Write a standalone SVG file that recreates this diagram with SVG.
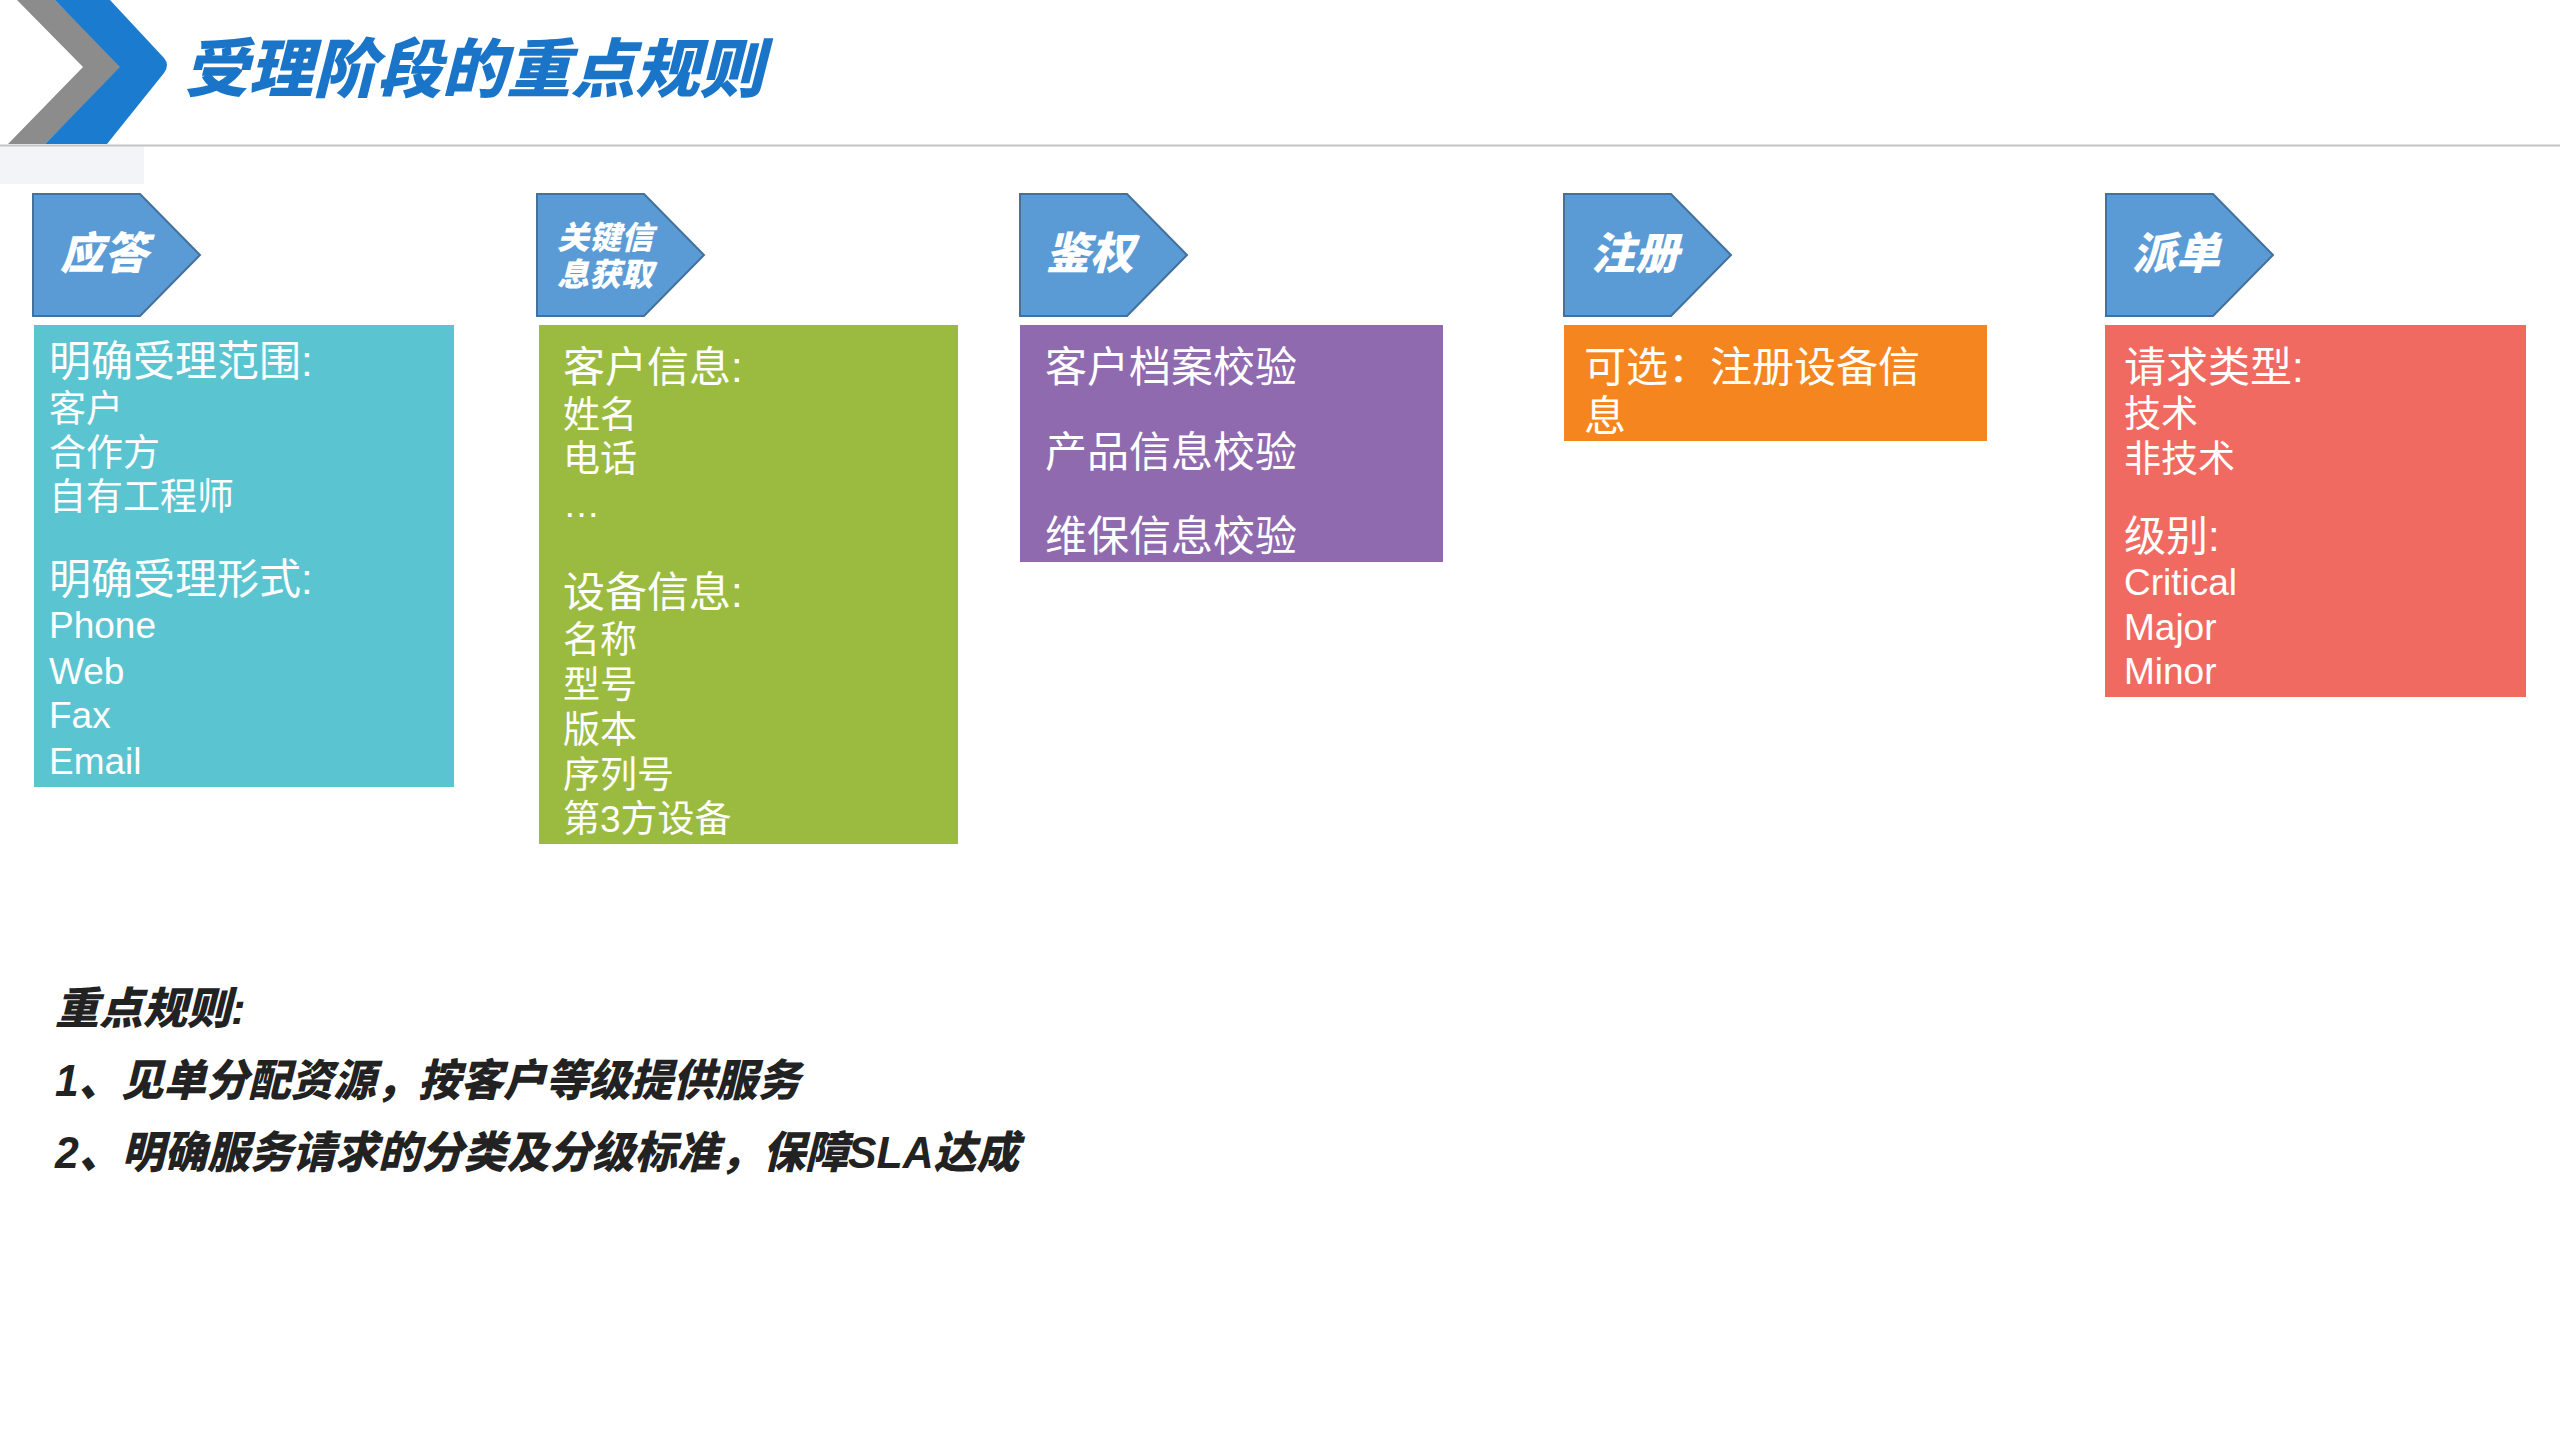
<svg xmlns="http://www.w3.org/2000/svg" width="2560" height="1440" viewBox="0 0 2560 1440">
<style>
.tag{fill:#5b9bd5;stroke:#41719c;stroke-width:2}
.tagt{font-family:"Noto Sans CJK SC",sans-serif;font-weight:900;font-style:italic;fill:#ffffff}
.bt{font-family:"Liberation Sans","Noto Sans CJK SC",sans-serif;fill:#ffffff}
.h{font-size:42px}
.i{font-size:37px}
.rule{font-family:"Liberation Sans","Noto Sans CJK SC",sans-serif;font-weight:900;font-style:italic;font-size:44px;fill:#222222}
</style>
<rect x="0" y="0" width="2560" height="1440" fill="#ffffff"/>
<g id="header">
<polygon points="17,0 55,0 122,66 45,144 8,144 83,67" fill="#8c8c8c"/>
<path d="M55,0 L110,0 L164,58 Q170,65 164,73 L107,144 L45,144 L120,67 Z" fill="#1b7bcf"/>
<rect x="0" y="146" width="144" height="38" fill="#f3f4f8"/>
<line x1="0" y1="145.5" x2="2560" y2="145.5" stroke="#c4c4c4" stroke-width="2"/>
<text x="184" y="92" font-family="Noto Sans CJK SC,sans-serif" font-weight="900" font-style="italic" font-size="64" fill="#1a75c8" textLength="580" lengthAdjust="spacingAndGlyphs">受理阶段的重点规则</text>
</g>
<g id="connectors"/>
<g id="node-yingda">
<polygon class="tag" points="33,194 140,194 200,255 140,316 33,316"/>
<text class="tagt" x="60" y="269" font-size="44">应答</text>
<rect x="34" y="325" width="420" height="462" fill="#5bc4d1"/>
<text class="bt h" x="49" y="376">明确受理范围:</text>
<text class="bt i" x="49" y="422">客户</text>
<text class="bt i" x="49" y="466">合作方</text>
<text class="bt i" x="49" y="510">自有工程师</text>
<text class="bt h" x="49" y="594">明确受理形式:</text>
<text class="bt i" x="49" y="638">Phone</text>
<text class="bt i" x="49" y="684">Web</text>
<text class="bt i" x="49" y="728">Fax</text>
<text class="bt i" x="49" y="774">Email</text>
</g>
<g id="node-info">
<polygon class="tag" points="537,194 644,194 704,255 644,316 537,316"/>
<text class="tagt" font-size="32"><tspan x="557" y="249">关键信</tspan><tspan x="557" y="286">息获取</tspan></text>
<rect x="539" y="325" width="419" height="519" fill="#9bbb40"/>
<text class="bt h" x="563" y="382">客户信息:</text>
<text class="bt i" x="563" y="428">姓名</text>
<text class="bt i" x="563" y="472">电话</text>
<text class="bt i" x="563" y="517">…</text>
<text class="bt h" x="563" y="607">设备信息:</text>
<text class="bt i" x="563" y="653">名称</text>
<text class="bt i" x="563" y="698">型号</text>
<text class="bt i" x="563" y="743">版本</text>
<text class="bt i" x="563" y="788">序列号</text>
<text class="bt i" x="563" y="832">第3方设备</text>
</g>
<g id="node-auth">
<polygon class="tag" points="1020,194 1127,194 1187,255 1127,316 1020,316"/>
<text class="tagt" x="1046" y="269" font-size="44">鉴权</text>
<rect x="1020" y="325" width="423" height="237" fill="#8f6aae"/>
<text class="bt h" x="1045" y="382">客户档案校验</text>
<text class="bt h" x="1045" y="467">产品信息校验</text>
<text class="bt h" x="1045" y="551">维保信息校验</text>
</g>
<g id="node-register">
<polygon class="tag" points="1564,194 1671,194 1731,255 1671,316 1564,316"/>
<text class="tagt" x="1591" y="269" font-size="44">注册</text>
<rect x="1564" y="325" width="423" height="116" fill="#f5861f"/>
<text class="bt h" x="1584" y="382">可选：注册设备信</text>
<text class="bt h" x="1584" y="431">息</text>
</g>
<g id="node-dispatch">
<polygon class="tag" points="2106,194 2213,194 2273,255 2213,316 2106,316"/>
<text class="tagt" x="2132" y="269" font-size="44">派单</text>
<rect x="2105" y="325" width="421" height="372" fill="#f06a62"/>
<text class="bt h" x="2124" y="382">请求类型:</text>
<text class="bt i" x="2124" y="427">技术</text>
<text class="bt i" x="2124" y="472">非技术</text>
<text class="bt h" x="2124" y="551">级别:</text>
<text class="bt i" x="2124" y="595">Critical</text>
<text class="bt i" x="2124" y="640">Major</text>
<text class="bt i" x="2124" y="684">Minor</text>
</g>
<g id="rules">
<text class="rule" x="55" y="1024">重点规则:</text>
<text class="rule" x="55" y="1096" textLength="745" lengthAdjust="spacingAndGlyphs">1、见单分配资源，按客户等级提供服务</text>
<text class="rule" x="55" y="1168" textLength="964" lengthAdjust="spacingAndGlyphs">2、明确服务请求的分类及分级标准，保障SLA达成</text>
</g>
</svg>
